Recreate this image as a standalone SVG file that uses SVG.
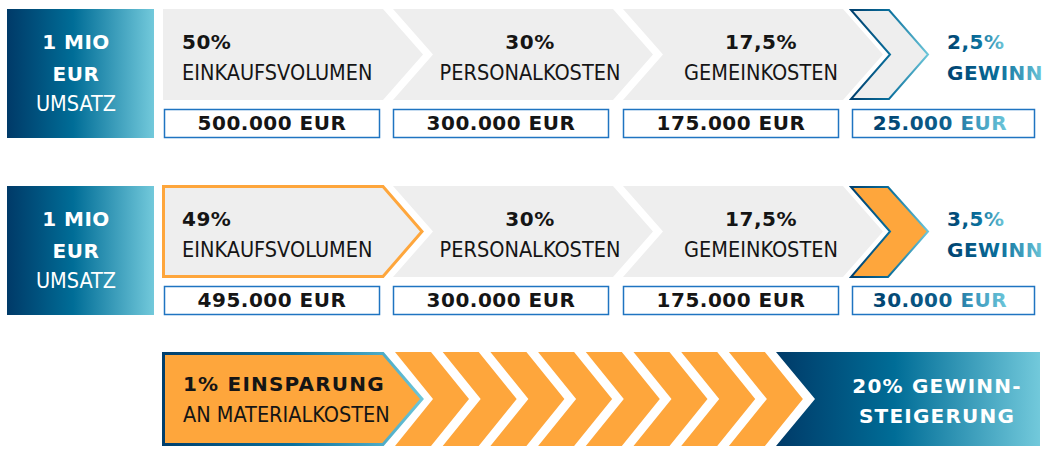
<svg xmlns="http://www.w3.org/2000/svg" width="1050" height="457" viewBox="0 0 1050 457">
<defs>
<linearGradient id="gBlue" x1="0" y1="0" x2="1" y2="0">
<stop offset="0" stop-color="#003a68"/>
<stop offset="0.45" stop-color="#006d97"/>
<stop offset="1" stop-color="#72c9db"/>
</linearGradient>
<linearGradient id="gLine" x1="0" y1="0" x2="1" y2="0">
<stop offset="0" stop-color="#003f6d"/>
<stop offset="0.5" stop-color="#0a6f9c"/>
<stop offset="1" stop-color="#6cc6d9"/>
</linearGradient>
<linearGradient id="gText" x1="0" y1="0" x2="1" y2="0">
<stop offset="0" stop-color="#00416f"/>
<stop offset="0.55" stop-color="#0a6f9c"/>
<stop offset="1" stop-color="#6cc6d9"/>
</linearGradient>
<linearGradient id="gVal" x1="0" y1="0" x2="1" y2="0">
<stop offset="0" stop-color="#00416f"/>
<stop offset="0.55" stop-color="#0e5f8c"/>
<stop offset="0.75" stop-color="#3a97bd"/>
<stop offset="1" stop-color="#6cc6d9"/>
</linearGradient>
</defs>
<style>
.grey{fill:#eeeeee}
.box{fill:#ffffff;stroke:#1f74c1;stroke-width:1.5}
.b{font-family:"DejaVu Sans",Verdana,sans-serif;font-weight:bold;font-size:20px;letter-spacing:0.5px;fill:#151515}
.n{font-family:"DejaVu Sans Condensed","DejaVu Sans",sans-serif;font-stretch:condensed;font-size:21.5px;fill:#151515}
.w{fill:#ffffff}
.m{text-anchor:middle}
.wide{letter-spacing:1.2px}
.orange{fill:#fea63c}
</style>

<!-- Row 1 -->
<g id="umsatz1">
<rect x="7" y="9" width="147" height="129" fill="url(#gBlue)"/>
<text class="b w m" x="76" y="49">1 MIO</text>
<text class="b w m" x="76" y="81">EUR</text>
<text class="n w m" x="76" y="111">UMSATZ</text>
</g>
<g id="einkauf1">
<polygon class="grey" points="163,9 383,9 423,54.5 383,100 163,100"/>
<text class="b" x="182" y="49">50%</text>
<text class="n" x="182" y="80">EINKAUFSVOLUMEN</text>
<rect class="box" x="164.5" y="109.5" width="215" height="28"/>
<text class="b m" x="272" y="130">500.000 EUR</text>
</g>
<g id="personal1">
<polygon class="grey" points="393,9 613,9 653,54.5 613,100 393,100 433,54.5"/>
<text class="b m" x="530" y="49">30%</text>
<text class="n m" x="530" y="80">PERSONALKOSTEN</text>
<rect class="box" x="393.5" y="109.5" width="215" height="28"/>
<text class="b m" x="501" y="130">300.000 EUR</text>
</g>
<g id="gemein1">
<polygon class="grey" points="623,9 843,9 883,54.5 843,100 623,100 663,54.5"/>
<text class="b m" x="761" y="49">17,5%</text>
<text class="n m" x="761" y="80">GEMEINKOSTEN</text>
<rect class="box" x="623.5" y="109.5" width="215" height="28"/>
<text class="b m" x="731" y="130">175.000 EUR</text>
</g>
<g id="gewinn1">
<polygon points="851,10 889,10 928,54.5 889,99 851,99 890,54.5" fill="#eeeeee" stroke="url(#gLine)" stroke-width="2" stroke-linejoin="miter"/>
<text class="b" x="947" y="49" style="fill:url(#gText)">2,5%</text>
<text class="b" x="947" y="80" style="fill:url(#gText)">GEWINN</text>
<rect class="box" x="852.5" y="109.5" width="182" height="28"/>
<text class="b m" x="940" y="130" style="fill:url(#gVal)">25.000 EUR</text>
</g>

<!-- Row 2 -->
<g id="umsatz2">
<rect x="7" y="186" width="147" height="129" fill="url(#gBlue)"/>
<text class="b w m" x="76" y="226">1 MIO</text>
<text class="b w m" x="76" y="258">EUR</text>
<text class="n w m" x="76" y="288">UMSATZ</text>
</g>
<g id="einkauf2">
<polygon points="163.5,186.5 383,186.5 422,231.5 383,276.5 163.5,276.5" fill="#eeeeee" stroke="#fea63c" stroke-width="3"/>
<text class="b" x="182" y="226">49%</text>
<text class="n" x="182" y="257">EINKAUFSVOLUMEN</text>
<rect class="box" x="164.5" y="286.5" width="215" height="28"/>
<text class="b m" x="272" y="307">495.000 EUR</text>
</g>
<g id="personal2">
<polygon class="grey" points="393,186 613,186 653,231.5 613,277 393,277 433,231.5"/>
<text class="b m" x="530" y="226">30%</text>
<text class="n m" x="530" y="257">PERSONALKOSTEN</text>
<rect class="box" x="393.5" y="286.5" width="215" height="28"/>
<text class="b m" x="501" y="307">300.000 EUR</text>
</g>
<g id="gemein2">
<polygon class="grey" points="623,186 843,186 883,231.5 843,277 623,277 663,231.5"/>
<text class="b m" x="761" y="226">17,5%</text>
<text class="n m" x="761" y="257">GEMEINKOSTEN</text>
<rect class="box" x="623.5" y="286.5" width="215" height="28"/>
<text class="b m" x="731" y="307">175.000 EUR</text>
</g>
<g id="gewinn2">
<polygon points="851,187 888,187 928,231.5 888,277 851,277 890,231.5" fill="#fea63c" stroke="url(#gLine)" stroke-width="2"/>
<text class="b" x="947" y="226" style="fill:url(#gText)">3,5%</text>
<text class="b" x="947" y="257" style="fill:url(#gText)">GEWINN</text>
<rect class="box" x="852.5" y="286.5" width="182" height="28"/>
<text class="b m" x="940" y="307" style="fill:url(#gVal)">30.000 EUR</text>
</g>

<!-- Row 3 -->
<g id="einsparung">
<polygon points="163.5,353.5 383,353.5 422,399 383,444.5 163.5,444.5" fill="#fea63c" stroke="url(#gLine)" stroke-width="3"/>
<text class="b wide" x="183" y="391">1% EINSPARUNG</text>
<text class="n" x="183" y="422">AN MATERIALKOSTEN</text>
</g>
<g id="chevrons" class="orange">
<polygon points="395,352 431,352 469,399 431,446 395,446 433,399"/>
<polygon points="442.7,352 478.7,352 516.7,399 478.7,446 442.7,446 480.7,399"/>
<polygon points="490.4,352 526.4,352 564.4,399 526.4,446 490.4,446 528.4,399"/>
<polygon points="538.1,352 574.1,352 612.1,399 574.1,446 538.1,446 576.1,399"/>
<polygon points="585.8,352 621.8,352 659.8,399 621.8,446 585.8,446 623.8,399"/>
<polygon points="633.5,352 669.5,352 707.5,399 669.5,446 633.5,446 671.5,399"/>
<polygon points="681.2,352 717.2,352 755.2,399 717.2,446 681.2,446 719.2,399"/>
<polygon points="728.9,352 764.9,352 802.9,399 764.9,446 728.9,446 766.9,399"/>
</g>
<g id="steigerung">
<polygon points="776,352 1040,352 1040,446 776,446 815,399" fill="url(#gBlue)"/>
<text class="b w m wide" x="937" y="393">20% GEWINN-</text>
<text class="b w m wide" x="937" y="423">STEIGERUNG</text>
</g>
<g id="connectors"/>
</svg>
